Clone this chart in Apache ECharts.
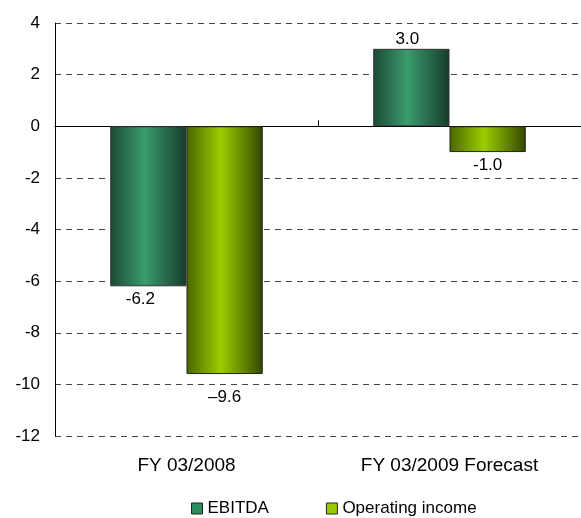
<!DOCTYPE html>
<html>
<head>
<meta charset="utf-8">
<script src="https://cdn.jsdelivr.net/npm/echarts@6/dist/echarts.min.js"></script>
<style>
  html, body { margin: 0; padding: 0; background: #fff; }
  #chart { width: 581px; height: 518px; }
</style>
</head>
<body>
<div id="chart"></div>
<script>
// Fiscal periods on the category axis
const categories = ['FY 03/2008', 'FY 03/2009 Forecast'];
// Values per period
const ebitda = [-6.2, 3.0];
const operatingIncome = [-9.6, -1.0];
// Minus sign used in each operating-income label
const opMinus = ['\u2013', '-'];
// Value axis range
const yMin = -12, yMax = 4, yStep = 2;

const FONT = 'Liberation Sans, Arial, sans-serif';

function fmt(v, minus) {
  const s = Math.abs(v).toFixed(1);
  return v < 0 ? minus + s : s;
}

function barGradient(edgeL, mid, edgeR) {
  return new echarts.graphic.LinearGradient(0, 0, 1, 0, [
    { offset: 0, color: edgeL },
    { offset: 0.45, color: mid },
    { offset: 1, color: edgeR }
  ]);
}

const ebitdaFill = barGradient('#1b4a34', '#3a9b6e', '#173c2a');
const opFill = barGradient('#4a6500', '#9ccd00', '#344800');

// per-bar label placement
const ebitdaLabelOffsets = [[-8, 0], [-4, 0]];
const opLabelOffsets = [[0, 0], [0, 0]];
const opLabelDist = [15, 5];

const chart = echarts.init(document.getElementById('chart'), null, { renderer: 'canvas' });

chart.setOption({
  animation: false,
  textStyle: { fontFamily: FONT },
  grid: { left: 55, right: 0, top: 23, bottom: 82 },
  legend: {
    left: 191,
    top: 500,
    padding: 0,
    itemWidth: 11,
    itemHeight: 11,
    itemGap: 57,
    icon: 'rect',
    textStyle: { fontFamily: FONT, fontSize: 17, color: '#000' },
    data: [
      { name: 'EBITDA', itemStyle: { color: '#2f8a5d', borderColor: '#222', borderWidth: 1 } },
      { name: 'Operating income', itemStyle: { color: '#99cc00', borderColor: '#222', borderWidth: 1 } }
    ]
  },
  xAxis: [
    {
      type: 'category',
      data: categories,
      position: 'bottom',
      axisLine: { show: false, onZero: false },
      axisTick: { show: false },
      axisLabel: { fontFamily: FONT, fontSize: 19, color: '#000', margin: 20 }
    },
    {
      type: 'category',
      data: categories,
      position: 'bottom',
      axisLine: { show: true, onZero: true, lineStyle: { color: '#000', width: 1 } },
      axisTick: { show: true, inside: true, length: 6, lineStyle: { color: '#000' } },
      axisLabel: { show: false },
      splitLine: { show: false }
    }
  ],
  yAxis: {
    type: 'value',
    min: yMin,
    max: yMax,
    interval: yStep,
    axisLine: { show: true, lineStyle: { color: '#000', width: 1 } },
    axisTick: { show: false },
    axisLabel: { fontFamily: FONT, fontSize: 17, color: '#000', margin: 15 },
    splitLine: { show: true, lineStyle: { color: '#444', type: [6, 5], width: 1 } }
  },
  series: [
    {
      name: 'EBITDA',
      type: 'bar',
      xAxisIndex: 0,
      barWidth: '29%',
      barGap: '0%',
      itemStyle: { color: ebitdaFill, borderColor: '#333', borderWidth: 1 },
      data: ebitda.map((v, i) => ({
        value: v,
        label: {
          show: true,
          position: v < 0 ? 'bottom' : 'top',
          distance: v < 0 ? 5 : 1,
          offset: ebitdaLabelOffsets[i],
          fontFamily: FONT, fontSize: 17, color: '#000',
          formatter: () => fmt(v, '-')
        }
      })),
      z: 3
    },
    {
      name: 'Operating income',
      type: 'bar',
      xAxisIndex: 0,
      barWidth: '29%',
      barGap: '0%',
      itemStyle: { color: opFill, borderColor: '#222', borderWidth: 1 },
      data: operatingIncome.map((v, i) => ({
        value: v,
        label: {
          show: true,
          position: v < 0 ? 'bottom' : 'top',
          distance: opLabelDist[i],
          offset: opLabelOffsets[i],
          fontFamily: FONT, fontSize: 17, color: '#000',
          formatter: () => fmt(v, opMinus[i])
        }
      })),
      z: 3
    }
  ]
});
</script>
</body>
</html>
